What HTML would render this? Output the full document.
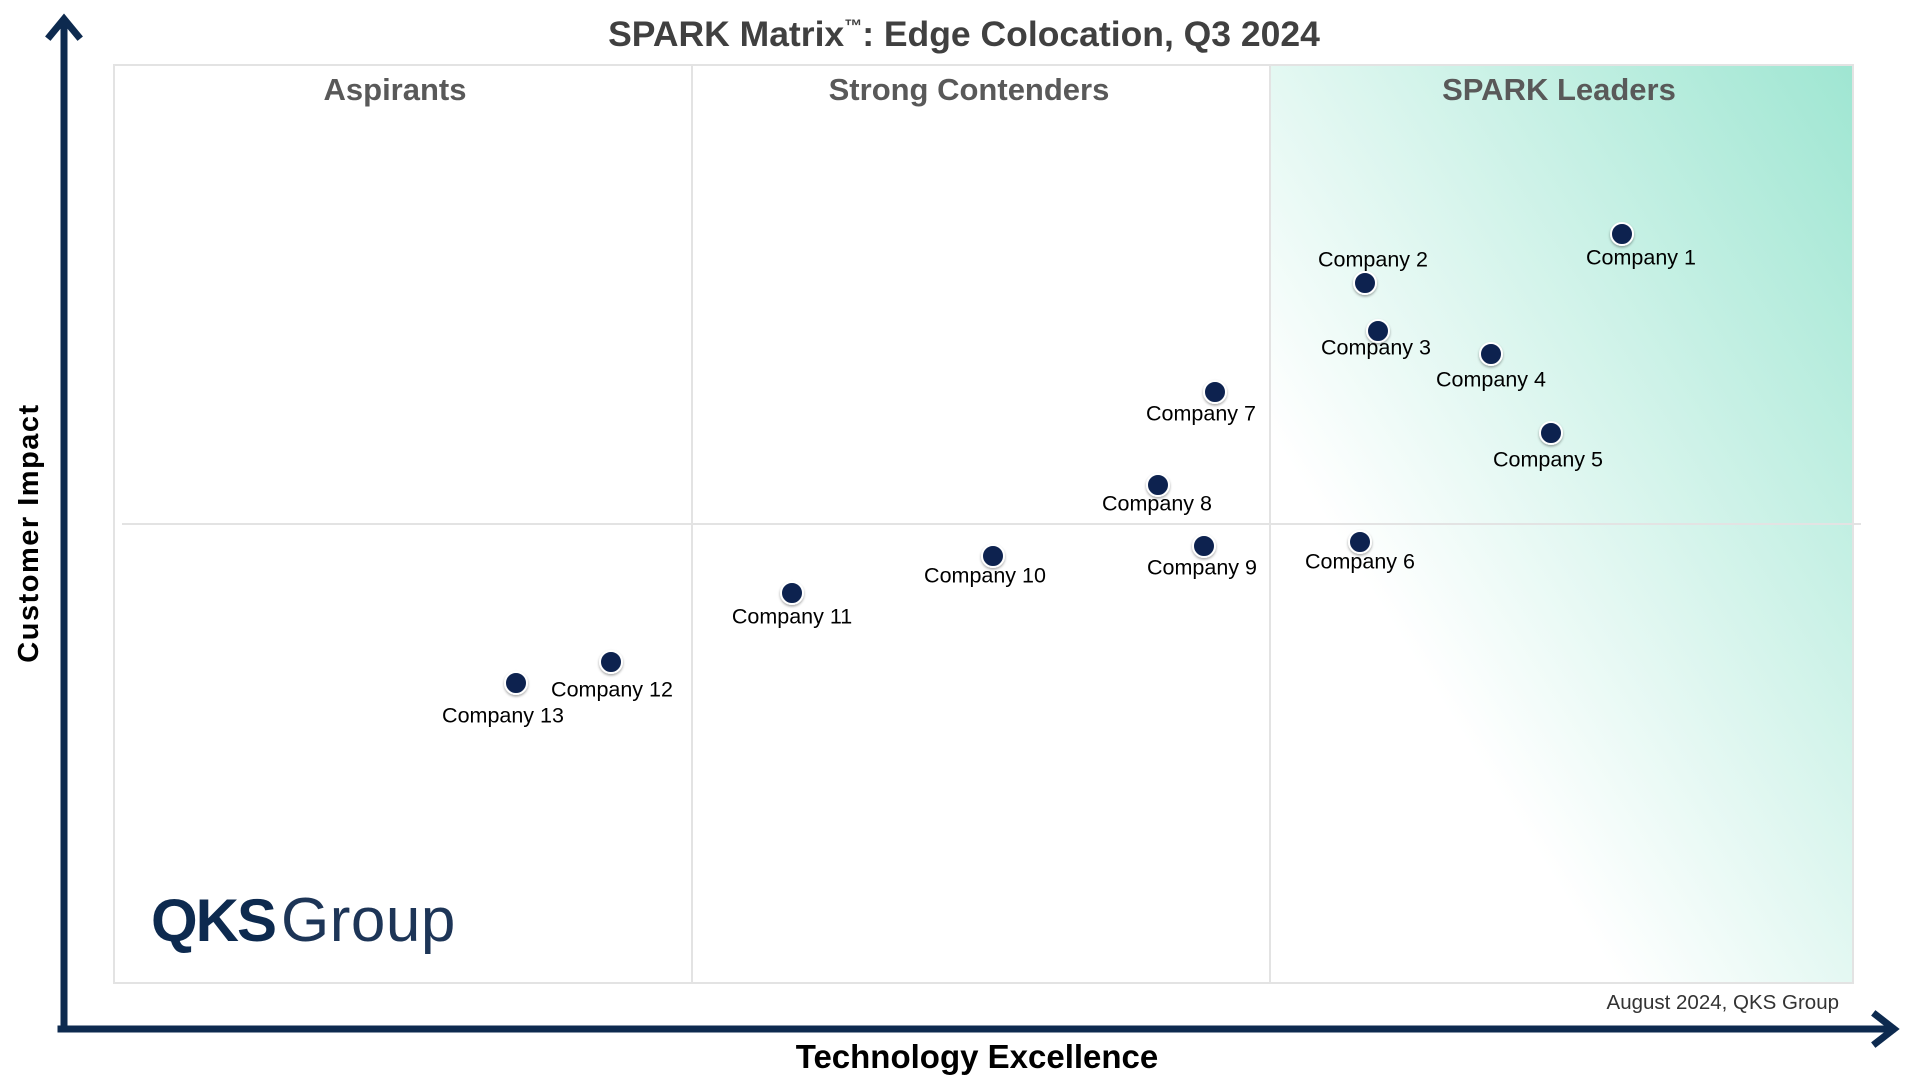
<!DOCTYPE html>
<html><head><meta charset="utf-8"><style>
html,body{margin:0;padding:0;background:#fff;}
svg{display:block;font-family:"Liberation Sans",Arial,sans-serif;}
</style></head><body>
<svg width="1920" height="1077" viewBox="0 0 1920 1077" xmlns="http://www.w3.org/2000/svg">
<defs>
<linearGradient id="lg" x1="0" y1="1" x2="1" y2="0">
<stop offset="0.3" stop-color="#ffffff"/>
<stop offset="1" stop-color="#9fe6d2"/>
</linearGradient>
<filter id="sh" x="-50%" y="-50%" width="200%" height="200%">
<feDropShadow dx="0" dy="1.5" stdDeviation="1.2" flood-color="#000" flood-opacity="0.35"/>
</filter>
</defs>
<rect x="1270" y="65" width="583" height="918" fill="url(#lg)"/>
<rect x="114" y="65" width="1739" height="918" fill="none" stroke="#e3e3e3" stroke-width="2"/>
<line x1="692" y1="65" x2="692" y2="983" stroke="#e3e3e3" stroke-width="2"/>
<line x1="1270" y1="65" x2="1270" y2="983" stroke="#e3e3e3" stroke-width="2"/>
<line x1="122" y1="524" x2="1861" y2="524" stroke="#e3e3e3" stroke-width="2"/>

<text x="964" y="46" text-anchor="middle" font-size="35.5" font-weight="bold" fill="#404040">SPARK Matrix<tspan font-size="18" dy="-14">™</tspan><tspan dy="14">: Edge Colocation, Q3 2024</tspan></text>
<g font-size="31" font-weight="bold" fill="#595959" text-anchor="middle">
<text x="395" y="100">Aspirants</text>
<text x="969" y="100">Strong Contenders</text>
<text x="1559" y="100">SPARK Leaders</text>
</g>

<g stroke="#0d2a4f" stroke-width="7" fill="none" stroke-linecap="square">
<line x1="64" y1="22" x2="64" y2="1029"/>
<line x1="61" y1="1029" x2="1892" y2="1029"/>
<polyline points="50,36 64,19 78,36" stroke-linejoin="miter"/>
<polyline points="1876,1015 1894,1029 1876,1043" stroke-linejoin="miter"/>
</g>
<text transform="translate(38,533) rotate(-90)" text-anchor="middle" font-size="29" font-weight="bold" fill="#000" letter-spacing="1.5">Customer Impact</text>
<text x="977" y="1068" text-anchor="middle" font-size="33" font-weight="bold" fill="#000">Technology Excellence</text>
<text x="1839" y="1009" text-anchor="end" font-size="20.5" fill="#333">August 2024, QKS Group</text>

<text x="151" y="941" font-size="60" fill="#0d2a4f"><tspan font-weight="bold" letter-spacing="-2">QKS</tspan><tspan dx="6" fill="#1d3557" font-size="62" letter-spacing="0.5">Group</tspan></text>

<g fill="#0d2450" stroke="#fff" stroke-width="2" filter="url(#sh)">
<circle cx="1622" cy="234" r="11"/>
<circle cx="1365" cy="283" r="11"/>
<circle cx="1378" cy="331" r="11"/>
<circle cx="1491" cy="354" r="11"/>
<circle cx="1551" cy="433" r="11"/>
<circle cx="1360" cy="542" r="11"/>
<circle cx="1215" cy="392" r="11"/>
<circle cx="1158" cy="485" r="11"/>
<circle cx="1204" cy="546" r="11"/>
<circle cx="993" cy="556" r="11"/>
<circle cx="792" cy="593" r="11"/>
<circle cx="611" cy="662" r="11"/>
<circle cx="516" cy="683" r="11"/>
</g>
<g font-size="21.5" fill="#000" text-anchor="middle" dominant-baseline="middle">
<text x="1641" y="259">Company 1</text>
<text x="1373" y="261">Company 2</text>
<text x="1376" y="349">Company 3</text>
<text x="1491" y="381">Company 4</text>
<text x="1548" y="461">Company 5</text>
<text x="1360" y="563">Company 6</text>
<text x="1201" y="415">Company 7</text>
<text x="1157" y="505">Company 8</text>
<text x="1202" y="569">Company 9</text>
<text x="985" y="577">Company 10</text>
<text x="792" y="618">Company 11</text>
<text x="612" y="691">Company 12</text>
<text x="503" y="717">Company 13</text>
</g>
</svg>
</body></html>
